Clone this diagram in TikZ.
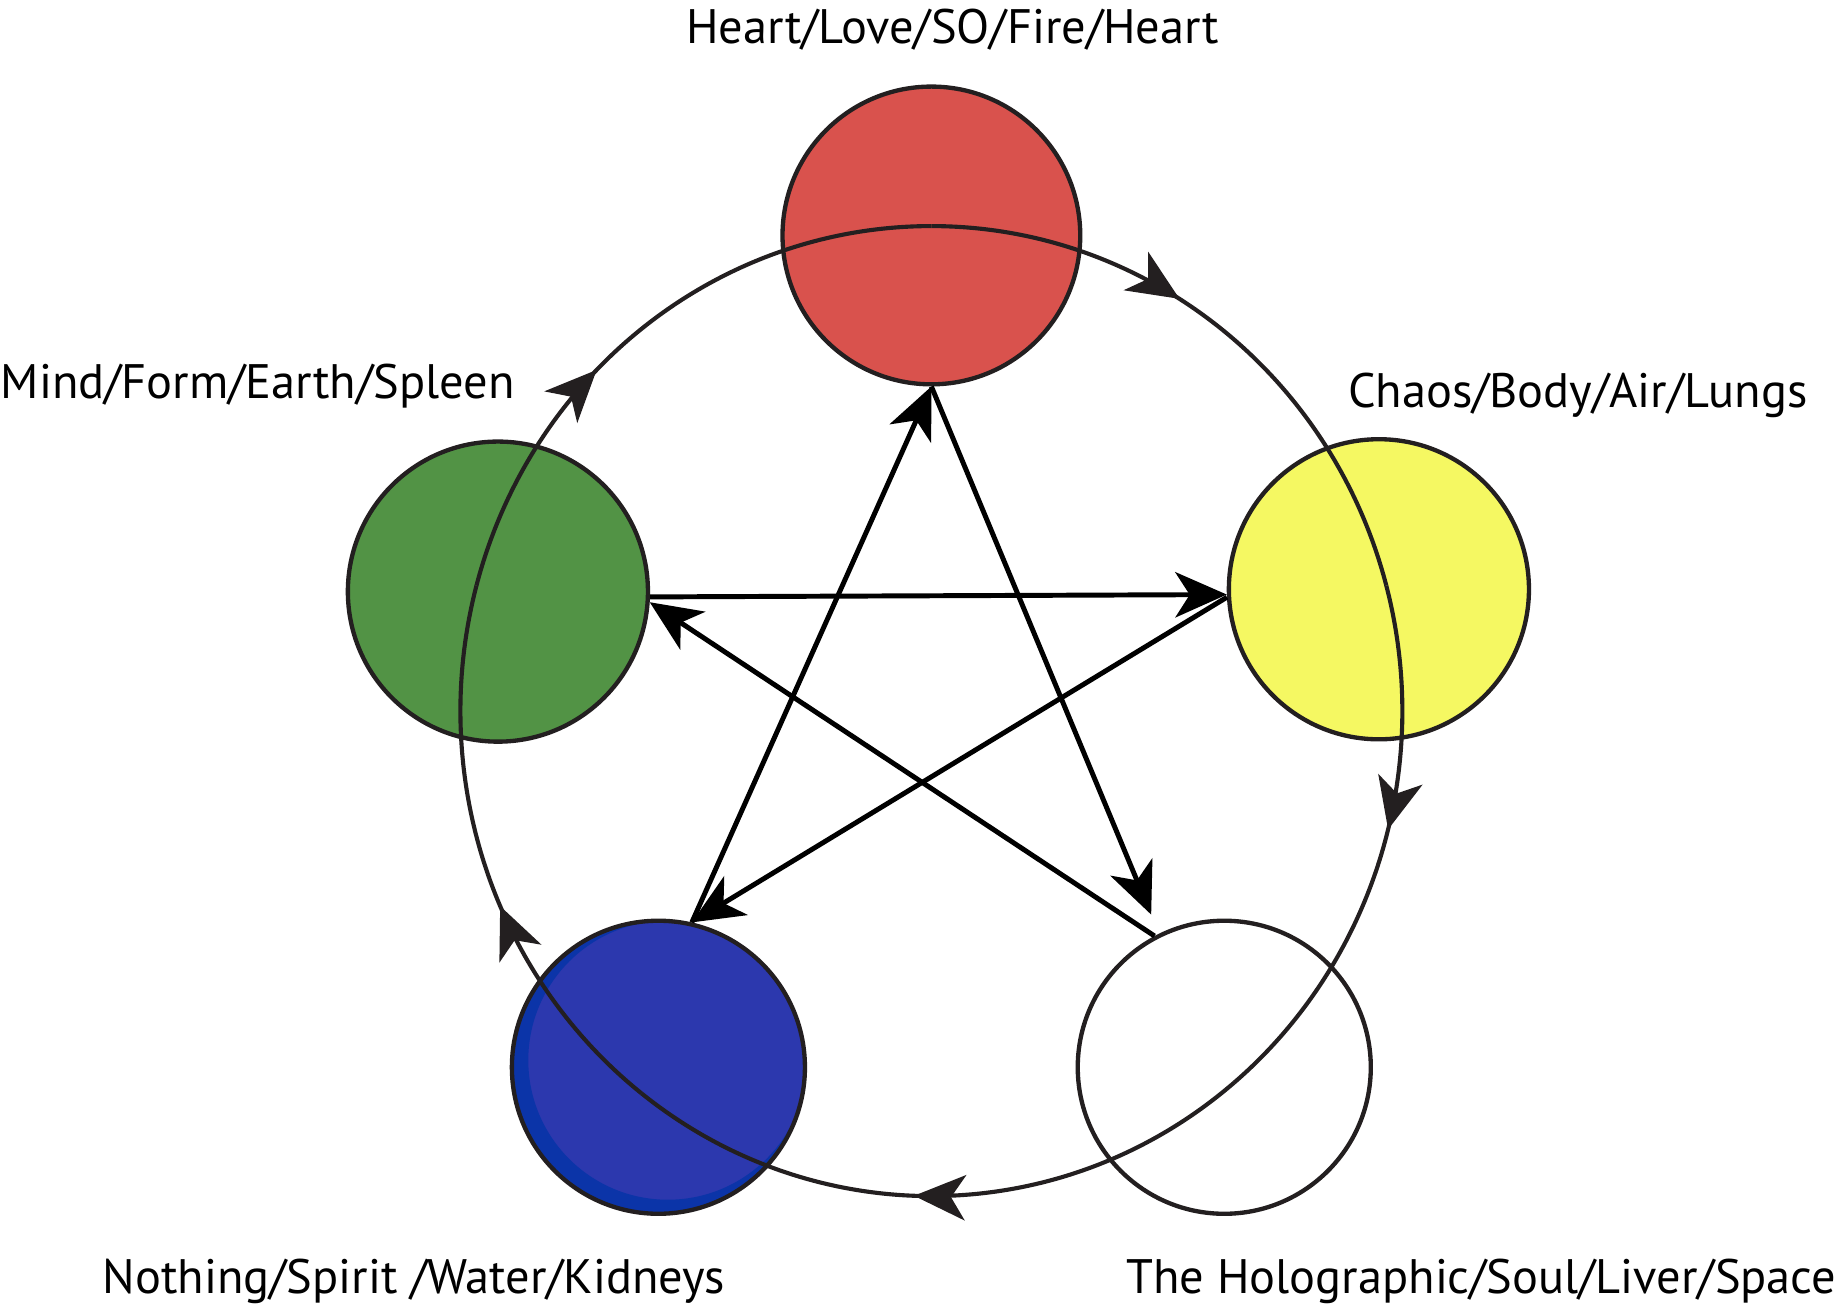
\documentclass[tikz,border=0pt]{standalone}
\usepackage{fontspec}
\setmainfont{PT Sans}
\usetikzlibrary{arrows.meta,decorations.markings}
\definecolor{outline}{HTML}{231F20}
\definecolor{firered}{HTML}{D9524D}
\definecolor{airyellow}{HTML}{F5F862}
\definecolor{earthgreen}{HTML}{529345}
\definecolor{waterblue}{HTML}{2C38AE}
\definecolor{waterdark}{HTML}{0B34A8}

\begin{document}
\begin{tikzpicture}[x=0.01cm,y=0.01cm,>={Stealth[length=12.5pt,width=11pt,inset=3.5pt]},
  elem/.style={circle,draw=outline,line width=1.05pt,inner sep=0pt},
  ring/.style={draw=outline,line width=1pt},
  ringarrow/.style={postaction={decorate},decoration={markings,mark=at position #1 with {\arrow{>}}}},
  link/.style={draw=black,line width=1.2pt},
  lbl/.style={inner sep=0pt,font=\fontsize{11.75}{14}\selectfont}]
\useasboundingbox (0,0) rectangle (1568,1116);
% the five elements
\node[elem,fill=firered,minimum size=2.54cm] (fire) at (795,915) {};
\node[elem,fill=airyellow,minimum size=2.56cm] (air) at (1177,613) {};
\node[elem,fill=earthgreen,minimum size=2.56cm] (earth) at (425,611) {};
\node[elem,fill=waterblue,minimum size=2.5cm,
  path picture={\fill[waterdark,even odd rule,shift={(path picture bounding box.center)}]
    (0,0) circle[radius=1.4cm] (0.08cm,0.06cm) circle[radius=1.19cm];}] (water) at (562,205) {};
\node[elem,fill=white,minimum size=2.5cm] (space) at (1045,205) {};
% outer cycle
\coordinate (hub) at (795,509);
\draw[ring,ringarrow=0.42] (hub) ++(90:402 and 414) arc[start angle=90,end angle=15,x radius=402,y radius=414];
\draw[ring,ringarrow=0.45] (hub) ++(15:402 and 414) arc[start angle=15,end angle=-50,x radius=402,y radius=414];
\draw[ring,ringarrow=0.54] (hub) ++(-50:402 and 414) arc[start angle=-50,end angle=-128,x radius=402,y radius=414];
\draw[ring,ringarrow=0.42] (hub) ++(232:402 and 414) arc[start angle=232,end angle=165,x radius=402,y radius=414];
\draw[ring,ringarrow=0.40] (hub) ++(165:402 and 414) arc[start angle=165,end angle=90,x radius=402,y radius=414];
% inner star
\draw[link,->,shorten >=5pt] (fire.270) -- (space.116);
\draw[link,->] (space.118) -- (earth.-4);
\draw[link,->] (earth.-2) -- (air.182);
\draw[link,->] (air.183) -- (water.77);
\draw[link,->] (water.77) -- (fire.270);
% labels
\node[lbl,anchor=base] (fireLbl) at (813,1079) {Heart/Love/SO/Fire/Heart};
\node[lbl,anchor=base west] (earthLbl) at (0,776) {Mind/Form/Earth/Spleen};
\node[lbl,anchor=base west] (airLbl) at (1150,768) {Chaos/Body/Air/Lungs};
\node[lbl,anchor=base west] (waterLbl) at (87,12) {Nothing/Spirit /Water/Kidneys};
\node[lbl,anchor=base east] (spaceLbl) at (1568,12) {The Holographic/Soul/Liver/Space};
\end{tikzpicture}
\end{document}
